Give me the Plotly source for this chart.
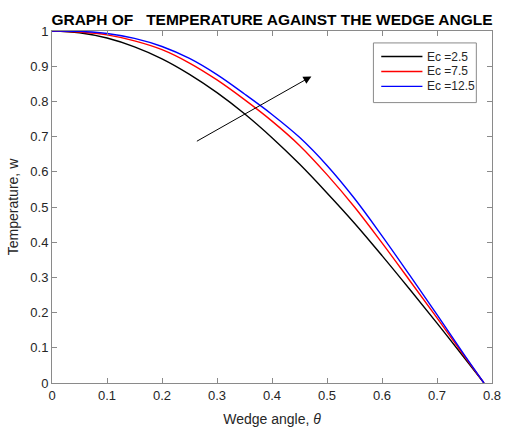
import numpy as np
import plotly.graph_objects as go

# Wedge angle (rad), from 0 to pi/4
theta = [0.0, 0.05, 0.1, 0.15, 0.2, 0.25, 0.3, 0.35, 0.4, 0.45,
         0.5, 0.55, 0.6, 0.65, 0.7, 0.75, float(np.pi / 4)]

# Temperature profiles w(theta) for each Eckert number
w_ec_2_5 = [1.0, 0.995, 0.980, 0.955, 0.921, 0.877, 0.825, 0.765, 0.697, 0.622,
            0.540, 0.454, 0.362, 0.267, 0.170, 0.071, 0.0]
w_ec_7_5 = [1.0, 0.997, 0.989, 0.972, 0.947, 0.909, 0.861, 0.805, 0.744, 0.675,
            0.592, 0.500, 0.398, 0.292, 0.185, 0.076, 0.0]
w_ec_12_5 = [1.0, 0.999, 0.993, 0.979, 0.956, 0.922, 0.876, 0.821, 0.763, 0.698,
             0.618, 0.524, 0.418, 0.307, 0.194, 0.079, 0.0]

legend_names = ["Ec =2.5", "Ec =7.5", "Ec =12.5"]
colors = ["#000000", "#ff0000", "#0000ff"]
profiles = [w_ec_2_5, w_ec_7_5, w_ec_12_5]

x_ticks = [0, 0.1, 0.2, 0.3, 0.4, 0.5, 0.6, 0.7, 0.8]
x_tick_text = ["0", "0.1", "0.2", "0.3", "0.4", "0.5", "0.6", "0.7", "0.8"]
y_ticks = [0, 0.1, 0.2, 0.3, 0.4, 0.5, 0.6, 0.7, 0.8, 0.9, 1]
y_tick_text = ["0", "0.1", "0.2", "0.3", "0.4", "0.5", "0.6", "0.7", "0.8", "0.9", "1"]

FONT = "Liberation Sans, Arial, Helvetica, sans-serif"
AXIS_GRAY = "#8a8a8a"
TEXT = "#262626"

fig = go.Figure()
for name, w, color in zip(legend_names, profiles, colors):
    fig.add_trace(go.Scatter(
        x=theta, y=w, mode="lines", name=name, showlegend=False,
        line=dict(color=color, width=1.4, shape="spline", smoothing=1.0),
    ))

# Arrow indicating increasing Ec
fig.add_annotation(
    x=0.4716, y=0.871, ax=0.2607, ay=0.6845,
    xref="x", yref="y", axref="x", ayref="y",
    showarrow=True, arrowhead=2, arrowsize=1.6, arrowwidth=1,
    arrowcolor="#000000", text="",
)

# Boxed legend in the upper-right corner of the axes
box_x0, box_x1, box_y0, box_y1 = 0.7305, 0.9644, 0.7966, 0.9661
line_x0, line_x1, text_x = 0.7483, 0.8419, 0.8486
entry_y = [0.9274, 0.8850, 0.8427]
fig.add_shape(type="rect", xref="paper", yref="paper",
              x0=box_x0, x1=box_x1, y0=box_y0, y1=box_y1,
              line=dict(color=AXIS_GRAY, width=1), fillcolor="white", layer="above")
for name, color, ey in zip(legend_names, colors, entry_y):
    fig.add_shape(type="line", xref="paper", yref="paper",
                  x0=line_x0, x1=line_x1, y0=ey, y1=ey,
                  line=dict(color=color, width=1.4), layer="above")
    fig.add_annotation(x=text_x, y=ey, xref="paper", yref="paper",
                       text=name, showarrow=False, xanchor="left", yanchor="middle",
                       font=dict(family=FONT, size=12, color=TEXT))

axis_common = dict(
    showline=True, linecolor=AXIS_GRAY, linewidth=1, mirror="ticks",
    ticks="inside", ticklen=5, tickcolor=AXIS_GRAY, tickwidth=1,
    showgrid=False, zeroline=False,
    tickfont=dict(family=FONT, size=13, color=TEXT),
)

fig.update_xaxes(
    range=[0, 0.80001], tickvals=x_ticks, ticktext=x_tick_text,
    title=dict(text="Wedge angle, <i>θ</i>", font=dict(family=FONT, size=14, color=TEXT),
               standoff=12),
    **axis_common,
)
fig.update_yaxes(
    range=[0, 1.00001], tickvals=y_ticks, ticktext=y_tick_text,
    title=dict(text="Temperature, w", font=dict(family=FONT, size=14, color=TEXT),
               standoff=8),
    **axis_common,
)

fig.update_layout(
    width=510, height=433,
    margin=dict(l=52, r=9, t=31, b=48),
    paper_bgcolor="white", plot_bgcolor="white",
    title=dict(
        text="<b>GRAPH OF\u00a0\u00a0\u00a0TEMPERATURE AGAINST THE WEDGE ANGLE</b>",
        font=dict(family=FONT, size=15.5, color="#000000"),
        x=0.5, xref="paper", xanchor="center",
        y=1, yref="paper", yanchor="bottom", pad=dict(b=6),
    ),
    showlegend=False,
)

fig.write_html("out.html")
